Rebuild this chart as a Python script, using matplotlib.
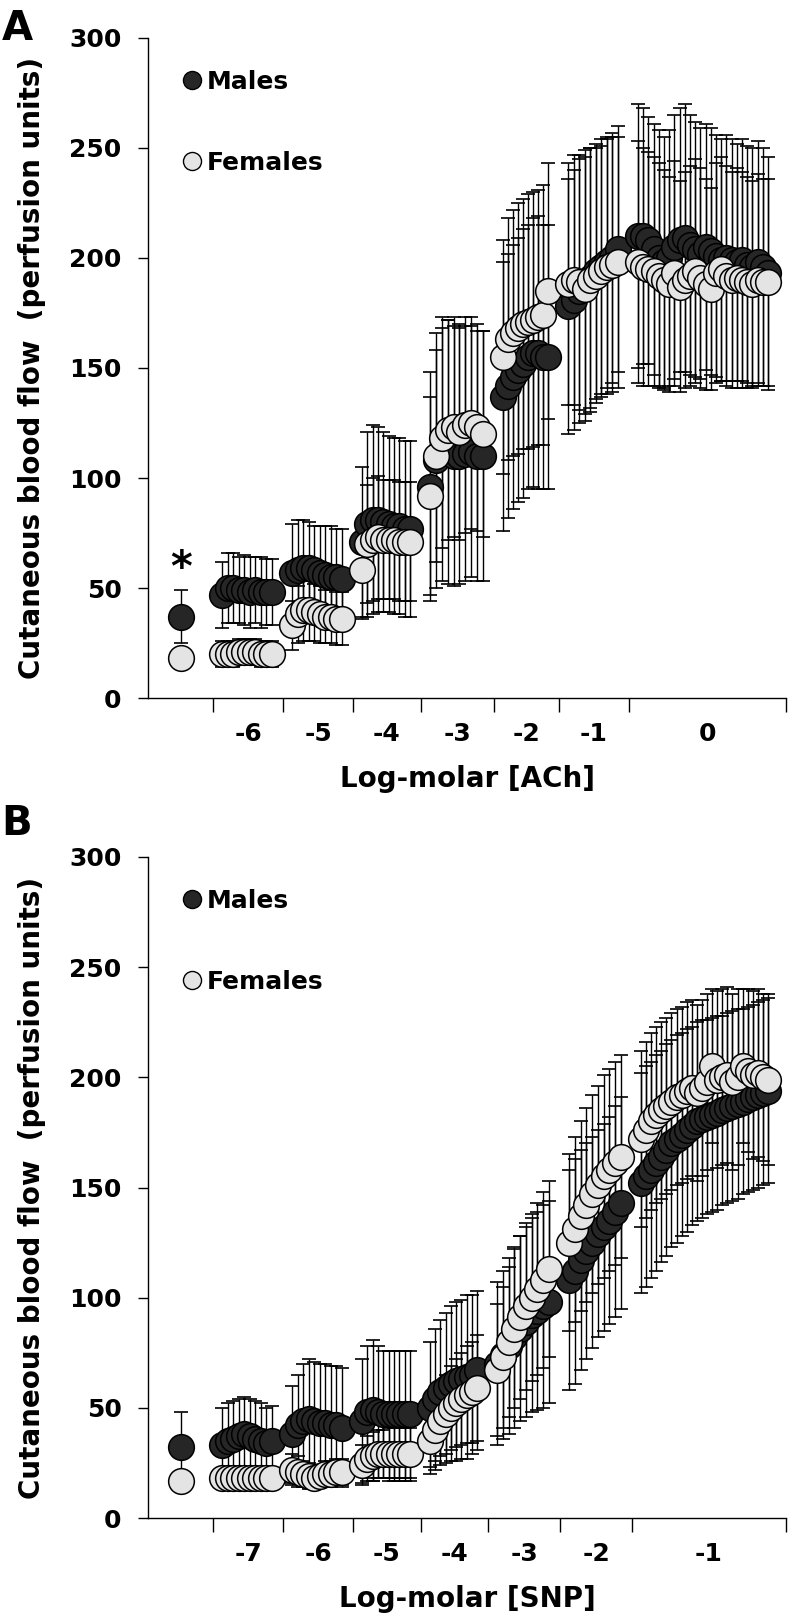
import matplotlib.pyplot as plt
import numpy as np
from matplotlib.lines import Line2D

plt.rcParams['font.family'] = ['DejaVu Sans']
plt.rcParams['font.weight'] = 'bold'

MALE_FC = '#262626'
FEMALE_FC = '#e4e4e4'
FS = 18
LABEL_FS = 20

# ---------- panel A : ACh ----------
ach_labels = ['-6', '-5', '-4', '-3', '-2', '-1', '0']
ach_edges = [0, 65, 135, 205, 273, 346, 411, 481, 638]   # group separators (x units)

ach_male_base = 37
ach_male_base_sem = 12
ach_female_base = 18
ach_female_base_sem = 3

ach_male = [
    [47, 50, 50, 49, 49, 48, 49, 48, 48, 48],
    [57, 58, 59, 59, 58, 57, 56, 55, 55, 54],
    [71, 79, 81, 81, 80, 79, 78, 78, 77, 77],
    [96, 108, 113, 112, 110, 110, 111, 112, 110, 110],
    [137, 142, 146, 149, 152, 155, 157, 157, 155, 155],
    [178, 181, 185, 189, 191, 194, 196, 198, 200, 204],
    [210, 210, 208, 204, 200, 198, 200, 205, 208, 209, 206, 204, 202,
     205, 203, 201, 199, 200, 199, 198, 199, 197, 196, 198, 196, 193],
]
ach_male_sem = [
    [15, 16, 16, 15, 16, 16, 15, 16, 15, 15],
    [22, 23, 22, 21, 20, 21, 22, 23, 22, 23],
    [34, 42, 43, 42, 41, 40, 40, 40, 40, 40],
    [52, 58, 60, 60, 59, 58, 58, 57, 57, 57],
    [61, 60, 60, 60, 61, 60, 61, 62, 60, 60],
    [58, 59, 60, 60, 59, 58, 58, 57, 57, 56],
    [60, 58, 56, 57, 58, 57, 58, 60, 60, 61, 59, 58, 57,
     56, 56, 55, 55, 56, 55, 54, 55, 54, 54, 55, 54, 53],
]
ach_female = [
    [20, 20, 20, 21, 21, 21, 21, 20, 20, 20],
    [33, 38, 40, 40, 39, 38, 37, 37, 36, 36],
    [58, 70, 72, 73, 72, 72, 72, 71, 71, 71],
    [92, 110, 118, 122, 123, 121, 124, 125, 123, 120],
    [155, 163, 166, 168, 170, 171, 172, 173, 174, 185],
    [188, 190, 189, 186, 190, 192, 194, 196, 197, 198],
    [198, 196, 195, 194, 192, 190, 188, 193, 187, 190, 192, 194, 191,
     188, 186, 193, 195, 192, 190, 191, 190, 189, 188, 190, 189, 189],
]
ach_female_sem = [
    [6, 6, 6, 6, 6, 6, 6, 6, 6, 6],
    [11, 13, 14, 14, 13, 13, 12, 12, 12, 12],
    [22, 27, 28, 28, 27, 27, 27, 27, 27, 27],
    [45, 48, 50, 50, 50, 49, 49, 48, 47, 47],
    [53, 55, 56, 57, 57, 58, 58, 58, 59, 58],
    [55, 57, 58, 60, 60, 58, 57, 58, 58, 57],
    [55, 54, 53, 52, 51, 50, 49, 51, 48, 49, 50, 51, 50,
     48, 46, 50, 51, 50, 49, 50, 49, 48, 47, 48, 47, 47],
]

# ---------- panel B : SNP ----------
snp_labels = ['-7', '-6', '-5', '-4', '-3', '-2', '-1']
snp_edges = [0, 65, 135, 205, 273, 340, 412, 484, 638]

snp_male_base = 32
snp_male_base_sem = 16
snp_female_base = 17
snp_female_base_sem = 3

snp_male = [
    [33, 35, 36, 37, 38, 37, 36, 35, 34, 35],
    [38, 42, 44, 45, 44, 43, 43, 42, 42, 41],
    [44, 48, 49, 48, 47, 47, 47, 47, 47, 47],
    [50, 54, 57, 59, 61, 62, 63, 64, 65, 67],
    [70, 74, 78, 82, 86, 89, 92, 94, 96, 98],
    [108, 112, 117, 121, 125, 129, 132, 135, 139, 143],
    [152, 155, 158, 161, 164, 167, 170, 172, 174, 176, 178, 180, 181,
     182, 183, 184, 185, 186, 187, 188, 189, 190, 191, 192, 193, 194],
]
snp_male_sem = [
    [17, 17, 17, 17, 17, 17, 17, 17, 16, 16],
    [22, 23, 26, 27, 27, 27, 27, 27, 27, 27],
    [28, 30, 32, 30, 29, 29, 29, 29, 29, 29],
    [30, 32, 33, 34, 35, 36, 36, 37, 36, 36],
    [37, 38, 40, 41, 42, 43, 44, 45, 46, 46],
    [50, 51, 50, 49, 48, 47, 47, 47, 48, 48],
    [50, 50, 49, 49, 48, 48, 47, 47, 46, 46, 45, 45, 45,
     44, 44, 44, 43, 43, 43, 43, 42, 42, 42, 42, 42, 42],
]
snp_female = [
    [18, 18, 18, 18, 18, 18, 18, 18, 18, 18],
    [22, 21, 20, 19, 18, 19, 20, 20, 21, 21],
    [24, 27, 28, 29, 29, 29, 29, 29, 29, 29],
    [35, 40, 44, 47, 50, 52, 54, 56, 57, 59],
    [67, 73, 80, 86, 91, 96, 100, 104, 108, 113],
    [125, 131, 137, 142, 147, 151, 155, 158, 161, 164],
    [172, 176, 180, 183, 185, 187, 189, 191, 192, 194, 195, 193, 195,
     198, 205, 199, 200, 201, 198, 200, 205, 203, 201, 202, 200, 199],
]
snp_female_sem = [
    [3, 3, 3, 3, 3, 3, 3, 3, 3, 3],
    [7, 7, 6, 6, 5, 5, 6, 6, 6, 6],
    [9, 10, 11, 11, 11, 12, 12, 12, 12, 12],
    [12, 14, 16, 18, 19, 20, 21, 22, 23, 24],
    [30, 32, 34, 36, 37, 38, 38, 39, 40, 40],
    [40, 42, 43, 44, 45, 45, 46, 46, 46, 46],
    [40, 40, 40, 40, 40, 40, 40, 40, 40, 40, 40, 40, 40,
     40, 35, 40, 40, 40, 40, 40, 35, 37, 38, 38, 38, 39],
]

BASE_X = 33


def group_x(edges, groups):
    xs = []
    for i, g in enumerate(groups):
        lo, hi = edges[i + 1] + 9, edges[i + 2] - 11
        if i == len(groups) - 1:
            hi = edges[i + 2] - 18
        xs.append(np.linspace(lo, hi, len(g)))
    return xs


def draw_panel(ax, edges, labels, xlabel, mbase, mbase_sem, fbase, fbase_sem,
               male, male_sem, female, female_sem):
    gx = group_x(edges, male)
    x = np.concatenate([[BASE_X]] + gx)
    ym = np.concatenate([[mbase]] + [np.array(g) for g in male])
    em = np.concatenate([[mbase_sem]] + [np.array(g) for g in male_sem])
    yf = np.concatenate([[fbase]] + [np.array(g) for g in female])
    ef = np.concatenate([[fbase_sem]] + [np.array(g) for g in female_sem])

    for y, e in [(ym, em), (yf, ef)]:
        ax.errorbar(x, y, yerr=e, fmt='none', ecolor='black', elinewidth=1.0,
                    capsize=5, capthick=1.2, zorder=2)
    ax.plot(x, ym, 'o', ms=18.5, mfc=MALE_FC, mec='black', mew=1.1, ls='none', zorder=3)
    ax.plot(x, yf, 'o', ms=18.5, mfc=FEMALE_FC, mec='black', mew=1.1, ls='none', zorder=4)

    ax.set_xlim(edges[0], edges[-1])
    ax.set_ylim(0, 300)
    ax.spines['top'].set_visible(False)
    ax.spines['right'].set_visible(False)
    for s in ['left', 'bottom']:
        ax.spines[s].set_linewidth(1.0)

    ax.set_yticks(np.arange(0, 301, 50))
    ax.tick_params(axis='y', direction='out', length=7, width=1.0, pad=12, labelsize=FS)
    ax.set_xticks(edges[1:])
    ax.set_xticklabels([])
    ax.tick_params(axis='x', which='major', direction='out', length=10, width=1.0)
    centers = [(edges[i + 1] + edges[i + 2]) / 2 for i in range(len(labels))]
    ax.set_xticks(centers, minor=True)
    ax.set_xticklabels(labels, minor=True)
    ax.tick_params(axis='x', which='minor', length=0, pad=17, labelsize=FS)

    ax.set_xlabel(xlabel, fontsize=LABEL_FS, fontweight='bold', labelpad=14)
    ax.set_ylabel('Cutaneous blood flow  (perfusion units)', fontsize=LABEL_FS,
                  fontweight='bold')
    ax.yaxis.set_label_coords(-0.16, 0.5)

    handles = [Line2D([], [], marker='o', ls='none', ms=13, mfc=MALE_FC, mec='black', mew=1.0),
               Line2D([], [], marker='o', ls='none', ms=13, mfc=FEMALE_FC, mec='black', mew=1.0)]
    ax.legend(handles, ['Males', 'Females'], loc='upper left', bbox_to_anchor=(0.053, 0.952),
              frameon=False, fontsize=FS, handlelength=0.8, handletextpad=0.2,
              labelspacing=2.28, borderpad=0, borderaxespad=0)


fig = plt.figure(figsize=(7.91, 16.23), dpi=100)
ax_a = fig.add_axes([148 / 791, 1 - 698 / 1623, 638 / 791, 660 / 1623])
ax_b = fig.add_axes([148 / 791, 1 - 1518 / 1623, 638 / 791, 661 / 1623])

draw_panel(ax_a, ach_edges, ach_labels, 'Log-molar [ACh]',
           ach_male_base, ach_male_base_sem, ach_female_base, ach_female_base_sem,
           ach_male, ach_male_sem, ach_female, ach_female_sem)
draw_panel(ax_b, snp_edges, snp_labels, 'Log-molar [SNP]',
           snp_male_base, snp_male_base_sem, snp_female_base, snp_female_base_sem,
           snp_male, snp_male_sem, snp_female, snp_female_sem)

ax_a.text(BASE_X, 53, '*', ha='center', va='baseline', fontsize=30, fontweight='bold')

fig.text(0.002, 1 - 40 / 1623, 'A', fontsize=29, fontweight='bold', va='baseline')
fig.text(0.002, 1 - 835 / 1623, 'B', fontsize=29, fontweight='bold', va='baseline')

fig.savefig('out.png', dpi=100)
